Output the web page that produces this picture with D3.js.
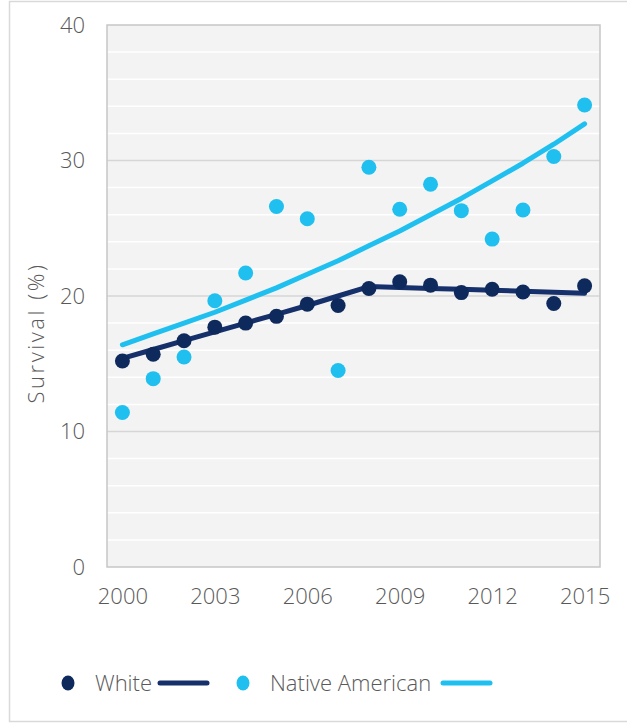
<!DOCTYPE html>
<html><head><meta charset="utf-8">
<script src="https://cdn.jsdelivr.net/npm/d3@7"></script>
<style>
html,body{margin:0;padding:0;background:#fff;}
svg{display:block;}
text{font-family:"Open Sans",sans-serif;font-weight:300;fill:#595959;}
</style></head>
<body>
<svg id="chart" width="627" height="723"></svg>
<script>
const years = [2000,2001,2002,2003,2004,2005,2006,2007,2008,2009,2010,2011,2012,2013,2014,2015];
const whiteVals = [15.2,15.7,16.7,17.7,18.0,18.5,19.4,19.3,20.55,21.05,20.8,20.25,20.5,20.3,19.45,20.75];
const nativeVals = [11.4,13.9,15.5,19.65,21.7,26.6,25.7,14.5,29.5,26.4,28.25,26.3,24.2,26.35,30.3,34.1];
const whiteTrend = [15.4,16.05,16.7,17.35,18.0,18.65,19.3,20.0,20.7,20.63,20.56,20.49,20.42,20.35,20.28,20.2];
const nativeTrend = [16.4,17.2,18.0,18.8,19.7,20.6,21.6,22.6,23.7,24.8,26.0,27.2,28.5,29.8,31.2,32.7];
const xTicks = [2000,2003,2006,2009,2012,2015];
const yTicks = [0,10,20,30,40];
const yMinor = [2,4,6,8,12,14,16,18,22,24,26,28,32,34,36,38];
const seriesNames = ["White","Native American"];
const colors = ["#0e2a5c","#1fc0ef"];
const lineColors = ["#15306a","#1fc0ef"];

const svg = d3.select("#chart");
const L=107,R=600,T=25,B=567;
const x = d3.scaleLinear().domain([1999.5,2015.5]).range([L,R]);
const y = d3.scaleLinear().domain([0,40]).range([B,T]);

// outer border
svg.append("rect").attr("x",9.5).attr("y",1.5).attr("width",640).attr("height",720)
  .attr("fill","none").attr("stroke","#d9d9d9").attr("stroke-width",1.5);

// plot bg
svg.append("rect").attr("x",L).attr("y",T).attr("width",R-L).attr("height",B-T).attr("fill","#f3f3f3");
// minor grid
svg.append("g").selectAll("line").data(yMinor).join("line")
  .attr("x1",L).attr("x2",R).attr("y1",d=>y(d)).attr("y2",d=>y(d))
  .attr("stroke","#ffffff").attr("stroke-width",1.5);
// major grid
svg.append("g").selectAll("line").data(yTicks.slice(1,-1)).join("line")
  .attr("x1",L).attr("x2",R).attr("y1",d=>y(d)).attr("y2",d=>y(d))
  .attr("stroke","#d6d6d6").attr("stroke-width",1.5);
svg.append("rect").attr("x",L).attr("y",T).attr("width",R-L).attr("height",B-T)
  .attr("fill","none").attr("stroke","#c6c6c6").attr("stroke-width",1.5);

// axes
const yAxis = d3.axisLeft(y).tickValues(yTicks).tickSize(0).tickPadding(22);
const gy = svg.append("g").attr("transform",`translate(${L},0)`).call(yAxis);
gy.select(".domain").remove();
gy.selectAll("text").style("font-size","22px").style("font-family","Open Sans").attr("fill","#595959");

const xAxis = d3.axisBottom(x).tickValues(xTicks).tickFormat(d3.format("d")).tickSize(0).tickPadding(21);
const gx = svg.append("g").attr("transform",`translate(0,${B})`).call(xAxis);
gx.select(".domain").remove();
gx.selectAll("text").style("font-size","22px").style("font-family","Open Sans").attr("fill","#595959");

svg.append("text").attr("transform","translate(44,333) rotate(-90)").attr("text-anchor","middle")
  .style("font-size","22px").style("letter-spacing","2.5px").text("Survival (%)");

const line = d3.line().x((d,i)=>x(years[i])).y(d=>y(d));
[whiteTrend,nativeTrend].forEach((t,k)=>{
  svg.append("path").datum(t).attr("d",line).attr("fill","none")
    .attr("stroke",lineColors[k]).attr("stroke-width",5).attr("stroke-linecap","round").attr("stroke-linejoin","round");
});
[nativeVals,whiteVals].forEach((v,kk)=>{
  const k = kk===0?1:0;
  svg.append("g").selectAll("circle").data(v).join("circle")
    .attr("cx",(d,i)=>x(years[i])).attr("cy",d=>y(d)).attr("r",7.5).attr("fill",colors[k]);
});

// legend
const leg = [{dot:68,text:95,l1:160,l2:207},{dot:243,text:270,l1:443,l2:490}];
leg.forEach((p,k)=>{
  svg.append("ellipse").attr("cx",p.dot).attr("cy",683).attr("rx",6.5).attr("ry",7.5).attr("fill",colors[k]);
  svg.append("text").attr("x",p.text).attr("y",691).style("font-size","22px").text(seriesNames[k]);
  svg.append("line").attr("x1",p.l1).attr("x2",p.l2).attr("y1",683).attr("y2",683)
    .attr("stroke",lineColors[k]).attr("stroke-width",5).attr("stroke-linecap","round");
});
</script>
</body></html>
